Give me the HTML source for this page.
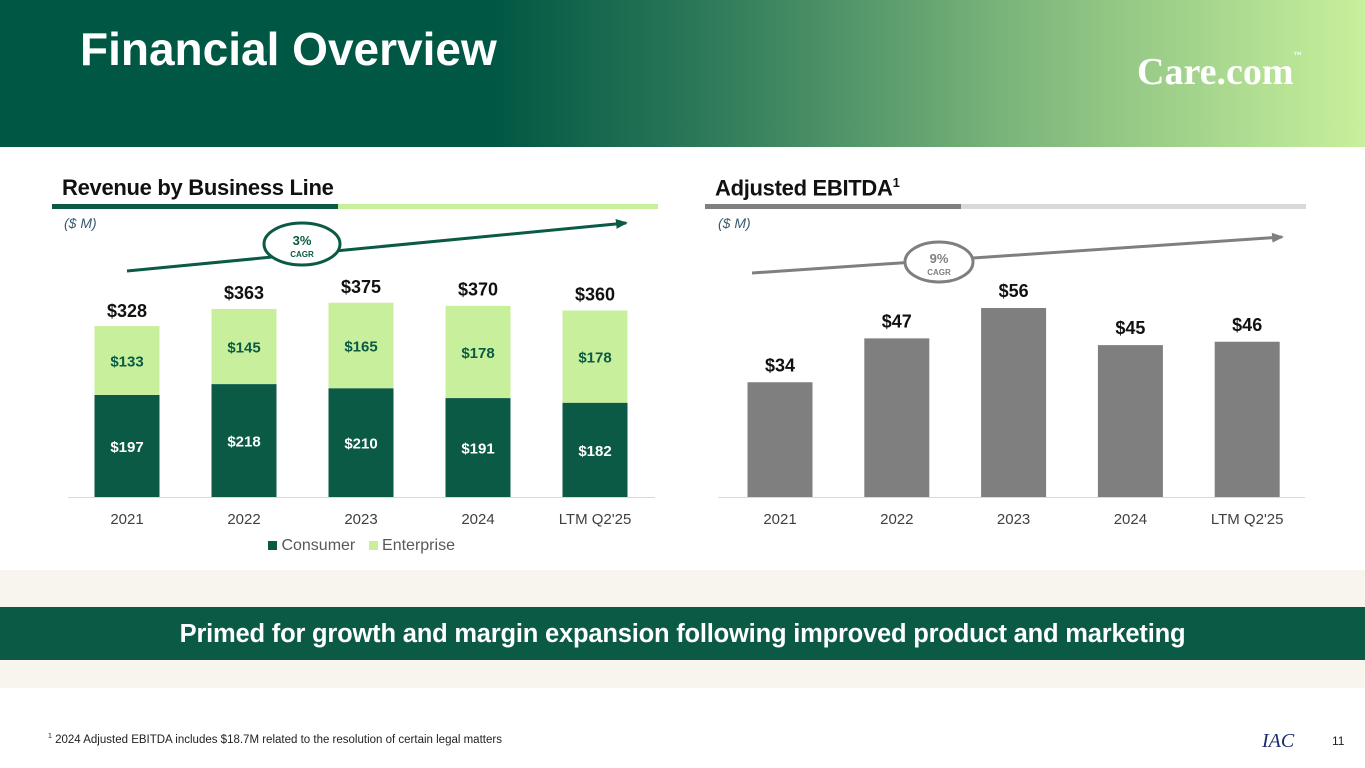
<!DOCTYPE html>
<html><head><meta charset="utf-8"><style>
body{margin:0;width:1365px;height:768px;overflow:hidden;background:#fff;font-family:"Liberation Sans",sans-serif;position:relative}
.abs{position:absolute}
</style></head><body>
<div class="abs" style="left:0;top:0;width:1365px;height:147px;background:linear-gradient(90deg,#005743 0%,#005743 36%,#2e7a5a 52%,#7fb87c 75%,#c8f09c 100%)"></div>
<div class="abs" style="left:80px;top:22px;font-size:46px;font-weight:bold;color:#fff">Financial Overview</div>
<div class="abs" style="left:1137px;top:50px;font-family:'Liberation Serif',serif;font-size:38px;font-weight:bold;color:#fff">Care.com<span style="font-size:8px;vertical-align:top">™</span></div>

<div class="abs" style="left:62px;top:175px;font-size:22px;font-weight:bold;color:#111;letter-spacing:-0.3px">Revenue by Business Line</div>
<div class="abs" style="left:52px;top:204px;width:286px;height:5px;background:#0a5a45"></div>
<div class="abs" style="left:338px;top:204px;width:320px;height:5px;background:#c8f09c"></div>
<div class="abs" style="left:64px;top:215px;font-size:14px;font-style:italic;color:#3a5a70">($ M)</div>

<div class="abs" style="left:715px;top:175px;font-size:22px;font-weight:bold;color:#111;letter-spacing:-0.3px">Adjusted EBITDA<sup style="font-size:13px">1</sup></div>
<div class="abs" style="left:705px;top:204px;width:256px;height:5px;background:#7f7f7f"></div>
<div class="abs" style="left:961px;top:204px;width:345px;height:5px;background:#d9d9d9"></div>
<div class="abs" style="left:718px;top:215px;font-size:14px;font-style:italic;color:#3a5a70">($ M)</div>

<svg class="abs" style="left:0;top:0" width="1365" height="768" id="chart">
<defs>
<marker id="ag" markerUnits="userSpaceOnUse" markerWidth="12" markerHeight="10" refX="10" refY="5" orient="auto"><path d="M0,0 L12,5 L0,10z" fill="#0a5a45"/></marker>
<marker id="ay" markerUnits="userSpaceOnUse" markerWidth="12" markerHeight="10" refX="10" refY="5" orient="auto"><path d="M0,0 L12,5 L0,10z" fill="#7f7f7f"/></marker>
</defs>
<line x1="127" y1="271" x2="626" y2="223" stroke="#0a5a45" stroke-width="3" marker-end="url(#ag)"/>
<ellipse cx="302" cy="244" rx="38" ry="21" fill="#fff" stroke="#0a5a45" stroke-width="3"/>
<text x="302" y="245" text-anchor="middle" font-size="13" font-weight="bold" fill="#0a5a45">3%</text>
<text x="302" y="257" text-anchor="middle" font-size="8" font-weight="bold" fill="#0a5a45">CAGR</text>
<line x1="752" y1="273" x2="1282" y2="237" stroke="#7f7f7f" stroke-width="3" marker-end="url(#ay)"/>
<ellipse cx="939" cy="262" rx="34" ry="20" fill="#fff" stroke="#7f7f7f" stroke-width="3"/>
<text x="939" y="263" text-anchor="middle" font-size="13" font-weight="bold" fill="#7f7f7f">9%</text>
<text x="939" y="275" text-anchor="middle" font-size="8" font-weight="bold" fill="#7f7f7f">CAGR</text>
<line x1="68" y1="497.5" x2="655" y2="497.5" stroke="#d9d9d9" stroke-width="1"/>
<line x1="718" y1="497.5" x2="1305" y2="497.5" stroke="#d9d9d9" stroke-width="1"/>
<g id="g"></g>
</svg>

<div class="abs" style="left:268px;top:537px;font-size:16px;color:#595959">
<span><span style="display:inline-block;width:9px;height:9px;background:#0a5a45"></span> Consumer</span>&nbsp;&nbsp;
<span><span style="display:inline-block;width:9px;height:9px;background:#c8f09c"></span> Enterprise</span></div>

<div class="abs" style="left:0;top:570px;width:1365px;height:118px;background:#f8f5ee"></div>
<div class="abs" style="left:0;top:607px;width:1365px;height:53px;background:#0a5a45;color:#fff;font-size:25.5px;font-weight:bold;text-align:center;line-height:55px;letter-spacing:-0.2px">Primed for growth and margin expansion following improved product and marketing</div>
<div class="abs" style="left:48px;top:733px;font-size:11.5px;color:#222"><sup style="font-size:7px">1</sup> 2024 Adjusted EBITDA includes $18.7M related to the resolution of certain legal matters</div>
<div class="abs" style="left:1262px;top:730px;font-family:'Liberation Serif',serif;font-style:italic;font-size:20px;color:#1a2a6c">IAC</div>
<div class="abs" style="left:1332px;top:734px;font-size:12px;color:#222">11</div>

<script>
const categories=["2021","2022","2023","2024","LTM Q2'25"];
const consumer=[197,218,210,191,182];
const enterprise=[133,145,165,178,178];
const revenueTotals=[328,363,375,370,360];
const ebitda=[34,47,56,45,46];
const NS="http://www.w3.org/2000/svg";
const g=document.getElementById('g');
function el(t,a){const e=document.createElementNS(NS,t);for(const k in a)e.setAttribute(k,a[k]);g.appendChild(e);return e;}
function txt(x,y,s,size,fill,weight){const e=el('text',{x:x,y:y,'text-anchor':'middle','font-size':size,fill:fill,'font-weight':weight||'normal'});e.textContent=s;return e;}
const base=497,bw=65;
const xRev=i=>127+i*117, yRev=v=>v*0.518;
const xEb=i=>780+i*116.8, yEb=v=>v*3.375;
categories.forEach((c,i)=>{
  const x=xRev(i),hc=yRev(consumer[i]),he=yRev(enterprise[i]);
  let r=el('rect',{x:x-bw/2,y:base-hc,width:bw,height:hc,fill:'#0a5a45'});
  
  
  r=el('rect',{x:x-bw/2,y:base-hc-he,width:bw,height:he,fill:'#c8f09c'});
  
  
  txt(x,base-hc/2+6,'$'+consumer[i],15,'#fff','bold');
  txt(x,base-hc-he/2+6,'$'+enterprise[i],15,'#0a5a45','bold');
  let t=txt(x,base-yRev(revenueTotals[i])-10,'$'+revenueTotals[i],18,'#111','bold');
  
  
  txt(x,524,c,15,'#404040');
  const xe=xEb(i),h=yEb(ebitda[i]);
  r=el('rect',{x:xe-bw/2,y:base-h,width:bw,height:h,fill:'#7f7f7f'});
  
  
  txt(xe,base-h-11,'$'+ebitda[i],18,'#111','bold');
  txt(xe,524,c,15,'#404040');
});
</script>
</body></html>
